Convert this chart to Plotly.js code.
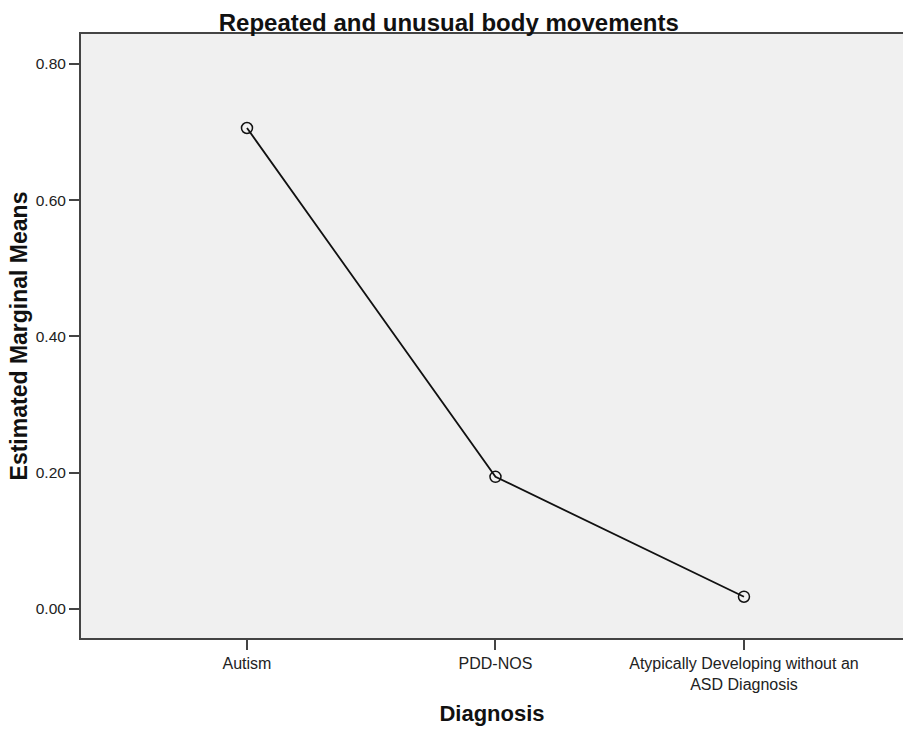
<!DOCTYPE html>
<html>
<head>
<meta charset="utf-8">
<script src="https://cdn.plot.ly/plotly-3.0.1.min.js"></script>
<style>html,body{margin:0;padding:0;background:#fff;overflow:hidden;}</style>
</head>
<body>
<div id="chart" style="width:903px;height:730px;"></div>
<script>
const categories = ["Autism", "PDD-NOS", "Atypically Developing without an ASD Diagnosis"];
const tickLabels = ["Autism", "PDD-NOS", "Atypically Developing without an<br>ASD Diagnosis"];
const means = [0.706, 0.194, 0.018];
const yTicks = [0.0, 0.2, 0.4, 0.6, 0.8];

const FONT = "Liberation Sans, Arial, sans-serif";

const trace = {
  x: categories,
  y: means,
  type: "scatter",
  mode: "lines+markers",
  line: {color: "#111", width: 1.8},
  marker: {symbol: "circle-open", size: 11, color: "#111", line: {width: 1.5, color: "#111"}},
  hoverinfo: "x+y"
};

const layout = {
  width: 903,
  height: 730,
  margin: {l: 81, r: 0, t: 34, b: 92},
  paper_bgcolor: "#ffffff",
  plot_bgcolor: "#f0f0f0",
  showlegend: false,
  title: {
    text: "<b>Repeated and unusual body movements</b>",
    font: {family: FONT, size: 24, color: "#111"},
    xref: "container", yref: "container",
    x: 0.497, xanchor: "center",
    y: 0.969, yanchor: "middle"
  },
  xaxis: {
    type: "category",
    tickvals: categories,
    ticktext: tickLabels,
    range: [-0.668, 2.64],
    showline: true, linecolor: "#444", linewidth: 2, mirror: true,
    ticks: "outside", ticklen: 10, tickwidth: 2, tickcolor: "#444",
    showgrid: false, zeroline: false,
    tickfont: {family: FONT, size: 16, color: "#222"},
    title: {text: "<b>Diagnosis</b>", font: {family: FONT, size: 22, color: "#111"}, standoff: 14}
  },
  yaxis: {
    range: [-0.0426, 0.844],
    tickvals: yTicks,
    tickformat: ".2f",
    showline: true, linecolor: "#444", linewidth: 2, mirror: false,
    ticks: "outside", ticklen: 10, tickwidth: 2, tickcolor: "#444",
    showgrid: false, zeroline: false,
    tickfont: {family: FONT, size: 15.5, color: "#222"},
    title: {text: "<b>Estimated Marginal Means</b>", font: {family: FONT, size: 23, color: "#111"}, standoff: 2}
  }
};

Plotly.newPlot("chart", [trace], layout, {displayModeBar: false, staticPlot: true});
</script>
</body>
</html>
